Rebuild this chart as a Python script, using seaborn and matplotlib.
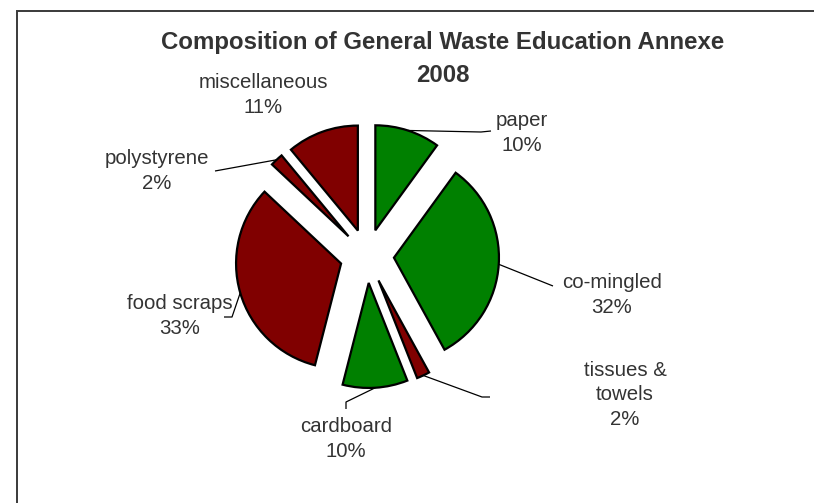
import matplotlib
matplotlib.use("Agg")
import matplotlib.pyplot as plt
from matplotlib.patches import Rectangle
import numpy as np
import seaborn as sns

# Waste composition (percent of total), clockwise from 12 o'clock
categories = ["paper", "co-mingled", "tissues &\ntowels", "cardboard",
              "food scraps", "polystyrene", "miscellaneous"]
shares = [10, 32, 2, 10, 33, 2, 11]
slice_colors = ["#008000", "#008000", "#800000", "#008000",
                "#800000", "#800000", "#800000"]
title_lines = ["Composition of General Waste Education Annexe", "2008"]

# Label block centres and leader-line end points (pixel space, y downward)
label_pos = [(522, 133), (612, 295), (625, 395), (346, 439),
             (180, 316), (157, 171), (263, 95)]
leader_end = [[(481, 132), (491, 131)],
              [(553, 286)],
              [(482, 397), (490, 397)],
              [(346, 402), (346, 409)],
              [(232, 317), (224, 317)],
              [(215, 171)],
              None]

W, H = 814, 503
sns.set_theme(style="white")
plt.rcParams["font.family"] = ["Liberation Sans", "DejaVu Sans"]

fig = plt.figure(figsize=(W / 100, H / 100), dpi=100)
ax = fig.add_axes([0, 0, 1, 1])

cx, cy, radius, gap = 367, 256, 105, 27
wedges, _ = ax.pie(
    shares,
    colors=slice_colors,
    startangle=90,
    counterclock=False,
    center=(cx, H - cy),
    radius=radius,
    explode=[gap] * len(shares),
    wedgeprops=dict(edgecolor="black", linewidth=1.6),
)
ax.set_xlim(0, W)
ax.set_ylim(0, H)
ax.set_aspect("equal")
ax.axis("off")

text_color = "#333333"
for w, name, val, pos, ends in zip(wedges, categories, shares, label_pos, leader_end):
    ax.text(pos[0], H - pos[1], f"{name}\n{val}%", ha="center", va="center",
            fontsize=14.7, color=text_color, linespacing=1.38)
    if ends is None:
        continue
    mid = np.deg2rad((w.theta1 + w.theta2) / 2)
    x0 = w.center[0] + w.r * np.cos(mid)
    y0 = w.center[1] + w.r * np.sin(mid)
    xs = [x0] + [p[0] for p in ends]
    ys = [y0] + [H - p[1] for p in ends]
    ax.plot(xs, ys, color="black", lw=0.9, solid_capstyle="butt")

for line, ty in zip(title_lines, [42, 75]):
    fig.text(443 / W, 1 - ty / H, line, ha="center", va="center",
             fontsize=17.3, fontweight="bold", color=text_color)

# chart-area frame (runs off the right and bottom edges)
fig.patches.append(Rectangle((17 / W, -0.5), 2, 1.5 - 11 / H, transform=fig.transFigure,
                             fill=False, edgecolor="#3a3a3a", lw=1.4))

fig.savefig("out.png", dpi=100, facecolor="white")
